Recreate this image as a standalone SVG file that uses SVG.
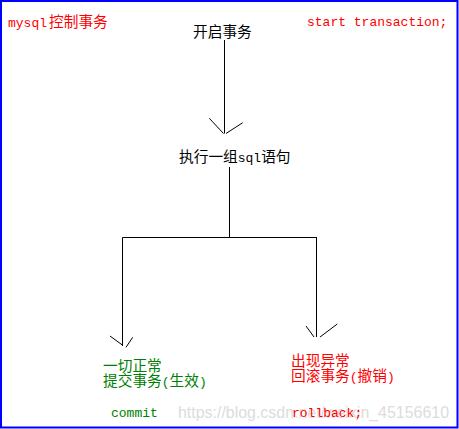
<svg xmlns="http://www.w3.org/2000/svg" width="459" height="429" viewBox="0 0 459 429">
<style>
.c{font-family:"Noto Sans CJK SC","Noto Sans CJK JP",sans-serif;font-size:14.7px}
.m{font-family:"Liberation Mono","DejaVu Sans Mono",monospace;font-size:13px}
.red{fill:#ff0000}
.grn{fill:#008000}
.blk{fill:#000000}
.ln{stroke:#000;stroke-width:1;fill:none}
.wm{font-family:"Liberation Sans",Arial,sans-serif;font-size:17px;fill:#dcdcdc}
</style>
<rect x="0" y="0" width="459" height="429" fill="#ffffff"/>
<rect x="1" y="1" width="456.5" height="426.5" fill="none" stroke="#0000ff" stroke-width="2"/>
<text class="wm" x="178" y="418" textLength="271" lengthAdjust="spacingAndGlyphs">https://blog.csdn.net/weixin_45156610</text>
<g id="connectors">
  <line class="ln" x1="224.5" y1="40" x2="224.5" y2="133.5"/>
  <line class="ln" x1="209.3" y1="118.3" x2="223.5" y2="133.5"/>
  <line class="ln" x1="242.7" y1="122.7" x2="226" y2="133.5"/>
  <line class="ln" x1="229.5" y1="167" x2="229.5" y2="237.5"/>
  <line class="ln" x1="122.5" y1="237.5" x2="317" y2="237.5"/>
  <line class="ln" x1="122.5" y1="237.5" x2="122.5" y2="346"/>
  <line class="ln" x1="110" y1="336" x2="123" y2="345.5"/>
  <line class="ln" x1="132.7" y1="337.3" x2="126" y2="347.3"/>
  <line class="ln" x1="316.5" y1="237.5" x2="316.5" y2="337"/>
  <line class="ln" x1="306" y1="326" x2="314" y2="337"/>
  <line class="ln" x1="337.3" y1="324" x2="320" y2="337"/>
</g>
<g id="title">
  <text x="8" y="26.5" class="red"><tspan class="m">mysql</tspan><tspan class="c" x="49">控制事务</tspan></text>
</g>
<g id="start-sql">
  <text x="307" y="26" class="m red">start transaction;</text>
</g>
<g id="node-start">
  <text x="193" y="36.5" class="c blk">开启事务</text>
</g>
<g id="node-exec">
  <text x="179" y="162" class="blk"><tspan class="c">执行一组</tspan><tspan class="m">sql</tspan><tspan class="c">语句</tspan></text>
</g>
<g id="node-commit">
  <text x="103" y="370.5" class="c grn">一切正常</text>
  <text x="103" y="385.5" class="grn"><tspan class="c">提交事务</tspan><tspan class="m">(</tspan><tspan class="c">生效</tspan><tspan class="m">)</tspan></text>
  <text x="111" y="417" class="m grn">commit</text>
</g>
<g id="node-rollback">
  <text x="291" y="365.5" class="c red">出现异常</text>
  <text x="291" y="380.5" class="red"><tspan class="c">回滚事务</tspan><tspan class="m">(</tspan><tspan class="c">撤销</tspan><tspan class="m">)</tspan></text>
  <text x="292" y="417" class="m red">rollback;</text>
</g>
</svg>
